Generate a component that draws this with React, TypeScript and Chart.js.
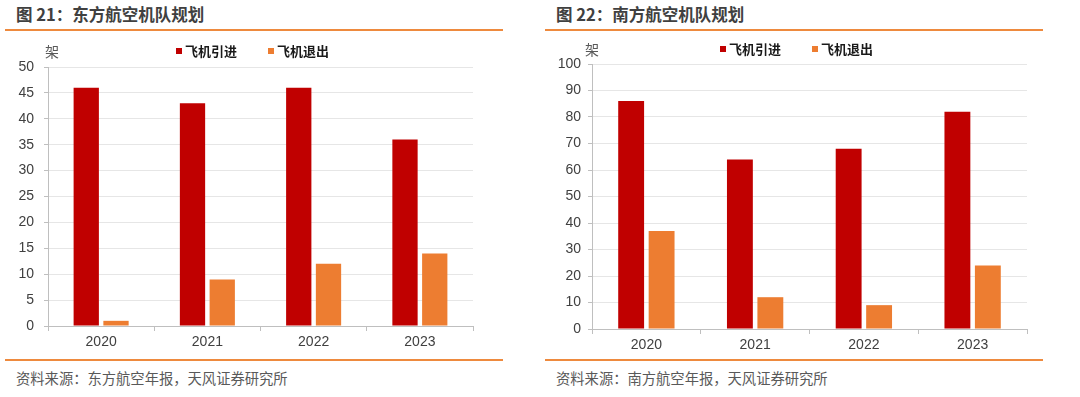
import React, { useEffect, useRef } from "react";
import { Chart, registerables } from "chart.js";
Chart.register(...registerables);

const years = ["2020", "2021", "2022", "2023"];
const seriesNames = ["飞机引进", "飞机退出"];
const eastIn = [46, 43, 46, 36];
const eastOut = [1, 9, 12, 14];
const southIn = [86, 64, 68, 82];
const southOut = [37, 12, 9, 24];
const eastAxis = { max: 50, step: 5 };
const southAxis = { max: 100, step: 10 };
const unitLabel = "架";
const eastTitle = "图 21：东方航空机队规划";
const southTitle = "图 22：南方航空机队规划";
const eastSource = "资料来源：东方航空年报，天风证券研究所";
const southSource = "资料来源：南方航空年报，天风证券研究所";

const RED = "#C00000";
const ORANGE = "#ED7D31";
const RULE = "#EE8A3E";
const CJK = '"Noto Sans CJK SC", "Noto Sans", sans-serif';
const NUM = '"Liberation Sans", Arial, sans-serif';

const miniLegend = {
  id: "miniLegend",
  afterDraw(chart: any, _args: any, o: any) {
    const ctx = chart.ctx;
    ctx.save();
    ctx.textBaseline = "middle";
    ctx.textAlign = "left";
    ctx.font = `bold 13px ${CJK}`;
    chart.data.datasets.forEach((ds: any, i: number) => {
      const x = o.x0 + i * o.step;
      ctx.fillStyle = ds.backgroundColor;
      ctx.fillRect(x, o.y - 3, 6, 6);
      ctx.fillStyle = "#1a1a1a";
      ctx.fillText(ds.label, x + 9, o.y);
    });
    ctx.font = `14px ${CJK}`;
    ctx.fillStyle = "#595959";
    ctx.fillText(o.unit, o.unitX, o.unitY);
    ctx.restore();
  },
};

type PanelProps = {
  left: number;
  title: string;
  source: string;
  inData: number[];
  outData: number[];
  axis: { max: number; step: number };
  yWidth: number;
  yPad: number;
  padTop: number;
  padRight: number;
  xHeight: number;
  legendX: number;
  legendY: number;
  unitX: number;
  unitY: number;
};

function Panel(p: PanelProps) {
  const ref = useRef<HTMLCanvasElement>(null);
  useEffect(() => {
    const chart = new Chart(ref.current!, {
      type: "bar",
      data: {
        labels: years,
        datasets: [
          { label: seriesNames[0], data: p.inData, backgroundColor: RED },
          { label: seriesNames[1], data: p.outData, backgroundColor: ORANGE },
        ],
      },
      plugins: [miniLegend],
      options: {
        animation: false,
        responsive: false,
        devicePixelRatio: 1,
        datasets: { bar: { categoryPercentage: 0.56, barPercentage: 0.85 } },
        layout: { padding: { left: 6, top: p.padTop, right: p.padRight, bottom: 0 } },
        plugins: {
          legend: { display: false },
          tooltip: { enabled: false },
          miniLegend: {
            x0: p.legendX,
            step: 92,
            y: p.legendY,
            unit: unitLabel,
            unitX: p.unitX,
            unitY: p.unitY,
          },
        } as any,
        scales: {
          x: {
            offset: true,
            grid: {
              display: true,
              offset: true,
              drawOnChartArea: false,
              drawTicks: true,
              tickLength: 5,
              color: "#bfbfbf",
            },
            border: { color: "#bfbfbf" },
            ticks: { color: "#404040", font: { family: NUM, size: 14 }, padding: 3 },
            afterFit: (s: any) => {
              s.height = p.xHeight;
            },
          },
          y: {
            min: 0,
            max: p.axis.max,
            ticks: {
              stepSize: p.axis.step,
              color: "#404040",
              font: { family: NUM, size: 14 },
              padding: p.yPad,
            },
            grid: { color: "#e6e6e6", tickColor: "#bfbfbf", tickLength: 4 },
            border: { color: "#bfbfbf" },
            afterFit: (s: any) => {
              s.width = p.yWidth;
            },
          },
        },
      } as any,
    });
    return () => chart.destroy();
  }, []);

  return (
    <div style={{ position: "absolute", left: p.left, top: 0, width: 540, height: 397 }}>
      <div
        style={{
          position: "absolute",
          left: 16,
          top: 5,
          fontFamily: CJK,
          fontWeight: "bold",
          fontSize: 16.5,
          lineHeight: "18px",
          color: "#404040",
          whiteSpace: "nowrap",
        }}
      >
        {p.title}
      </div>
      <div style={{ position: "absolute", left: 5, top: 29, width: 498, height: 2, background: RULE }} />
      <canvas
        ref={ref}
        width={505}
        height={322}
        style={{ position: "absolute", left: 0, top: 36, width: 505, height: 322 }}
      />
      <div style={{ position: "absolute", left: 5, top: 359, width: 498, height: 2, background: RULE }} />
      <div
        style={{
          position: "absolute",
          left: 16,
          top: 370,
          fontFamily: CJK,
          fontSize: 14.3,
          lineHeight: "16px",
          color: "#595959",
          whiteSpace: "nowrap",
        }}
      >
        {p.source}
      </div>
    </div>
  );
}

export default function App() {
  return (
    <div
      style={{
        position: "absolute",
        left: 0,
        top: 0,
        width: 1080,
        height: 397,
        background: "#ffffff",
        overflow: "hidden",
      }}
    >
      <Panel
        left={0}
        title={eastTitle}
        source={eastSource}
        inData={eastIn}
        outData={eastOut}
        axis={eastAxis}
        yWidth={42}
        yPad={10}
        padTop={31}
        padRight={32}
        xHeight={32}
        legendX={176}
        legendY={15}
        unitX={45}
        unitY={16}
      />
      <Panel
        left={540}
        title={southTitle}
        source={southSource}
        inData={southIn}
        outData={southOut}
        axis={southAxis}
        yWidth={46}
        yPad={7}
        padTop={28}
        padRight={18}
        xHeight={29}
        legendX={180}
        legendY={13}
        unitX={45}
        unitY={14}
      />
    </div>
  );
}
